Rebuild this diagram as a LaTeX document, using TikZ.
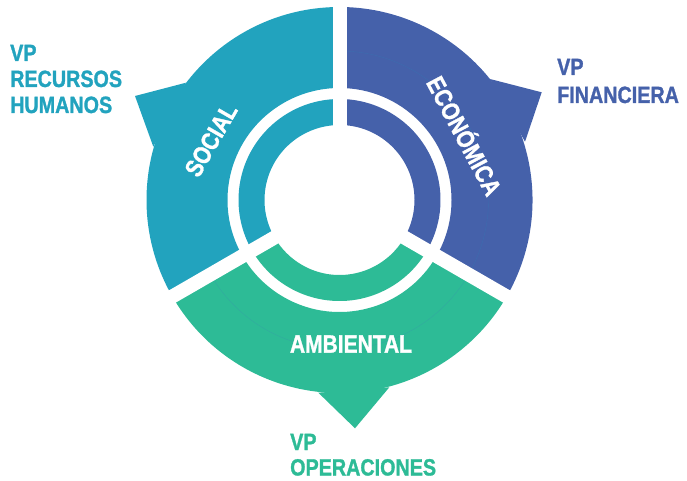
\documentclass[tikz,border=0pt]{standalone}
\usepackage{fontspec}
\usetikzlibrary{calc}
\setmainfont{Liberation Sans}[FakeStretch=0.84,BoldFeatures={FakeBold=1.2}]
\definecolor{soc}{RGB}{34,163,190}
\definecolor{eco}{RGB}{69,97,170}
\definecolor{amb}{RGB}{45,187,150}
\definecolor{ecoline}{RGB}{60,108,175}
\definecolor{ambline}{RGB}{50,170,160}
\begin{document}
\begin{tikzpicture}[x=1pt,y=1pt,
  sectorlabel/.style={text=white,font=\bfseries\fontsize{25}{25}\selectfont,inner sep=0pt},
  vplabel/.style={font=\bfseries\fontsize{23.5}{26}\selectfont,inner sep=0pt,anchor=base west},
  gapline/.style={white,line width=14pt},
  faint/.style={line width=0.4pt}]
\useasboundingbox (0,0) rectangle (687,480);
\coordinate (C) at (339.5,280);
% outer rings
\fill[soc,shift={(C)}] (90:193) arc[start angle=90,end angle=210,radius=193] -- (210:112) arc[start angle=210,end angle=90,radius=112] -- cycle;
\fill[eco,shift={(C)}] (-30:193) arc[start angle=-30,end angle=90,radius=193] -- (90:112) arc[start angle=90,end angle=-30,radius=112] -- cycle;
\fill[amb,shift={(C)}] (210:193) arc[start angle=210,end angle=330,radius=193] -- (330:112) arc[start angle=330,end angle=210,radius=112] -- cycle;
% tabs
\fill[soc] (186,397.3) -- (135,384) -- (153.3,333.3) -- cycle;
\fill[eco] (490,401) -- (541.7,387.7) -- (525,338.3) -- cycle;
\fill[amb] (318.3,87.3) -- (355,51.7) -- (389.3,92.7) -- cycle;
% inner rings
\fill[soc,shift={(C)}] (90:101) arc[start angle=90,end angle=210,radius=101] -- (210:75) arc[start angle=210,end angle=90,radius=75] -- cycle;
\fill[eco,shift={(C)}] (-30:101) arc[start angle=-30,end angle=90,radius=101] -- (90:75) arc[start angle=90,end angle=-30,radius=75] -- cycle;
\fill[amb,shift={(C)}] (210:101) arc[start angle=210,end angle=330,radius=101] -- (330:75) arc[start angle=330,end angle=210,radius=75] -- cycle;
% faint seams
\draw[faint,ecoline,shift={(C)}] (90:149) arc[start angle=90,end angle=-30,radius=149];
\draw[faint,ambline,shift={(C)}] (210:149) arc[start angle=210,end angle=330,radius=149];
% gaps
\coordinate (g1) at ($(C)+(90:200)$);
\coordinate (g2) at ($(C)+(210:200)$);
\coordinate (g3) at ($(C)+(330:200)$);
\draw[gapline] (C) -- (g1);
\draw[gapline] (C) -- (g2);
\draw[gapline] (C) -- (g3);
% sector labels
\node[sectorlabel,rotate=60] (social) at (211,340) {SOCIAL};
\node[sectorlabel,rotate=-62] (economica) at (466,345) {ECONÓMICA};
\node[sectorlabel] (ambiental) at (351,136) {AMBIENTAL};
% VP labels
\node[vplabel,text=soc] (hr1) at (10,419) {VP};
\node[vplabel,text=soc] (hr2) at (10,393) {RECURSOS};
\node[vplabel,text=soc] (hr3) at (10,367) {HUMANOS};
\node[vplabel,text=eco] (fi1) at (557,405) {VP};
\node[vplabel,text=eco] (fi2) at (557,377) {FINANCIERA};
\node[vplabel,text=amb] (op1) at (290,30) {VP};
\node[vplabel,text=amb] (op2) at (290,4.5) {OPERACIONES};
\end{tikzpicture}
\end{document}
